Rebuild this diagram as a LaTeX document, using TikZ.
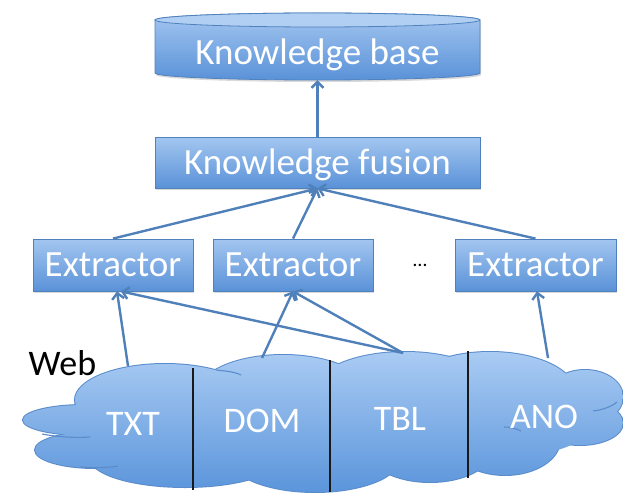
\documentclass[tikz,border=0pt]{standalone}
\usepackage{fontspec}
\setmainfont{Carlito}
\usetikzlibrary{arrows.meta,shadows}

\definecolor{boxtop}{HTML}{A3C6F0}
\definecolor{boxbot}{HTML}{5A92D8}
\definecolor{boxline}{HTML}{4F81BD}
\definecolor{linkc}{HTML}{5080BA}
\definecolor{cloudtop}{HTML}{A9CBF3}
\definecolor{cloudbot}{HTML}{5B95DB}
\definecolor{cloudline}{HTML}{5A8CCB}

\tikzset{
  boxshade/.style={top color=boxtop, bottom color=boxbot, draw=boxline, line width=0.8pt,
    drop shadow={shadow xshift=1.2pt, shadow yshift=-2pt, opacity=0.3}},
  boxtext/.style={text=white, font=\fontsize{37pt}{40pt}\selectfont,
    text height=23pt, text depth=0pt, inner sep=0pt},
  procbox/.style={boxshade, boxtext, rectangle, minimum height=52pt},
  link/.style={draw=linkc, line width=2.4pt, -{Straight Barb[length=6pt,width=12pt]}},
  cloudtext/.style={text=white, font=\fontsize{36pt}{40pt}\selectfont, anchor=base, inner sep=0pt},
  divider/.style={line width=2.4pt, draw=black!90},
  innerarc/.style={draw=cloudline, line width=1.1pt},
}

% lobes of the web cloud: centre x / centre y / x radius / y radius
\def\cloudlobes{85/420/62/15, 95/450/60/18, 165/400/90/36, 185/458/95/29,
  283/393/85/38, 315/458/85/34, 405/390/90/38, 430/452/60/30,
  490/392/85/40, 585/397/38/27, 580/423/43/22, 505/440/55/35}

\begin{document}
\begin{tikzpicture}[x=1pt,y=-1pt]
\useasboundingbox (0,0) rectangle (623,492);

% ---- web cloud: stroke every lobe, then fill the union on top
\foreach \cx/\cy/\rx/\ry in \cloudlobes {
  \draw[draw=cloudline, line width=2pt] (\cx,\cy) ellipse[x radius=\rx pt, y radius=\ry pt];
}
\path[top color=cloudtop, bottom color=cloudbot]
  \foreach \cx/\cy/\rx/\ry in \cloudlobes { (\cx,\cy) ellipse[x radius=\rx pt, y radius=\ry pt] }
  (330,432) ellipse[x radius=255pt, y radius=40pt];

% short inner folds of the cloud outline
\draw[innerarc] (216,370) .. controls (226,371) and (235,372) .. (241,375);
\draw[innerarc] (593,411) .. controls (602,410) and (611,407) .. (617,402);
\draw[innerarc] (504,427) .. controls (509,427) and (515,428) .. (521,431);
\draw[innerarc] (42,434) .. controls (58,437) and (75,438) .. (90,437);
\draw[innerarc] (80,467) .. controls (93,468) and (106,468) .. (118,466);

% dividers between the kinds of web content
\draw[divider] (193,368) -- (193,490);
\draw[divider] (330,360) -- (330,492);
\draw[divider] (468,351) -- (468,478);

\node[cloudtext] (txt) at (133,435) {TXT};
\node[cloudtext] (dom) at (262,432) {DOM};
\node[cloudtext] (tbl) at (400,430) {TBL};
\node[cloudtext] (ano) at (544,428) {ANO};
\node[font=\fontsize{36pt}{40pt}\selectfont, anchor=base, inner sep=0pt] (web) at (62.5,375) {Web};

\coordinate (txtp) at (128,366);
\coordinate (domp) at (262,358);
\coordinate (tblp) at (403,353);
\coordinate (anop) at (548,358);

% ---- knowledge base cylinder
\path[boxshade] (155,20) -- (155,73)
  arc[start angle=180, end angle=360, x radius=162.5pt, y radius=7pt]
  -- (480,20)
  arc[start angle=0, end angle=180, x radius=162.5pt, y radius=7pt] -- cycle;
\path[draw=boxline, line width=0.8pt, fill=boxtop!85!white]
  (317.5,20) ellipse[x radius=162.5pt, y radius=7pt];
\node[boxtext, minimum width=325pt, minimum height=53pt] (kb) at (317.5,53.5) {Knowledge base};

% ---- fusion and extractors
\node[procbox, minimum width=325pt, minimum height=51pt] (kf) at (317.5,162.5) {Knowledge fusion};
\node[procbox, minimum width=160pt] (e1) at (113,265) {Extractor};
\node[procbox, minimum width=160pt] (e2) at (293,265) {Extractor};
\node[procbox, minimum width=161pt] (e3) at (535.5,265) {Extractor};
\node[font=\fontsize{20pt}{22pt}\selectfont, inner sep=0pt] (dots) at (420,265) {…};

% ---- connectors
\draw[link] (kf.north) -- (kb.south);
\draw[link] (e1.north) -- (kf.south);
\draw[link] (e2.north) -- (kf.south);
\draw[link] (e3.north) -- (kf.south);

\draw[link] (txtp) -- ([xshift=4pt]e1.south);
\draw[link] (tblp) -- ([xshift=8pt]e1.south);
\draw[link] (domp) -- (e2.south);
\draw[link] (tblp) -- (e2.south);
\draw[link] (anop) -- ([xshift=1.5pt]e3.south);
\end{tikzpicture}
\end{document}
